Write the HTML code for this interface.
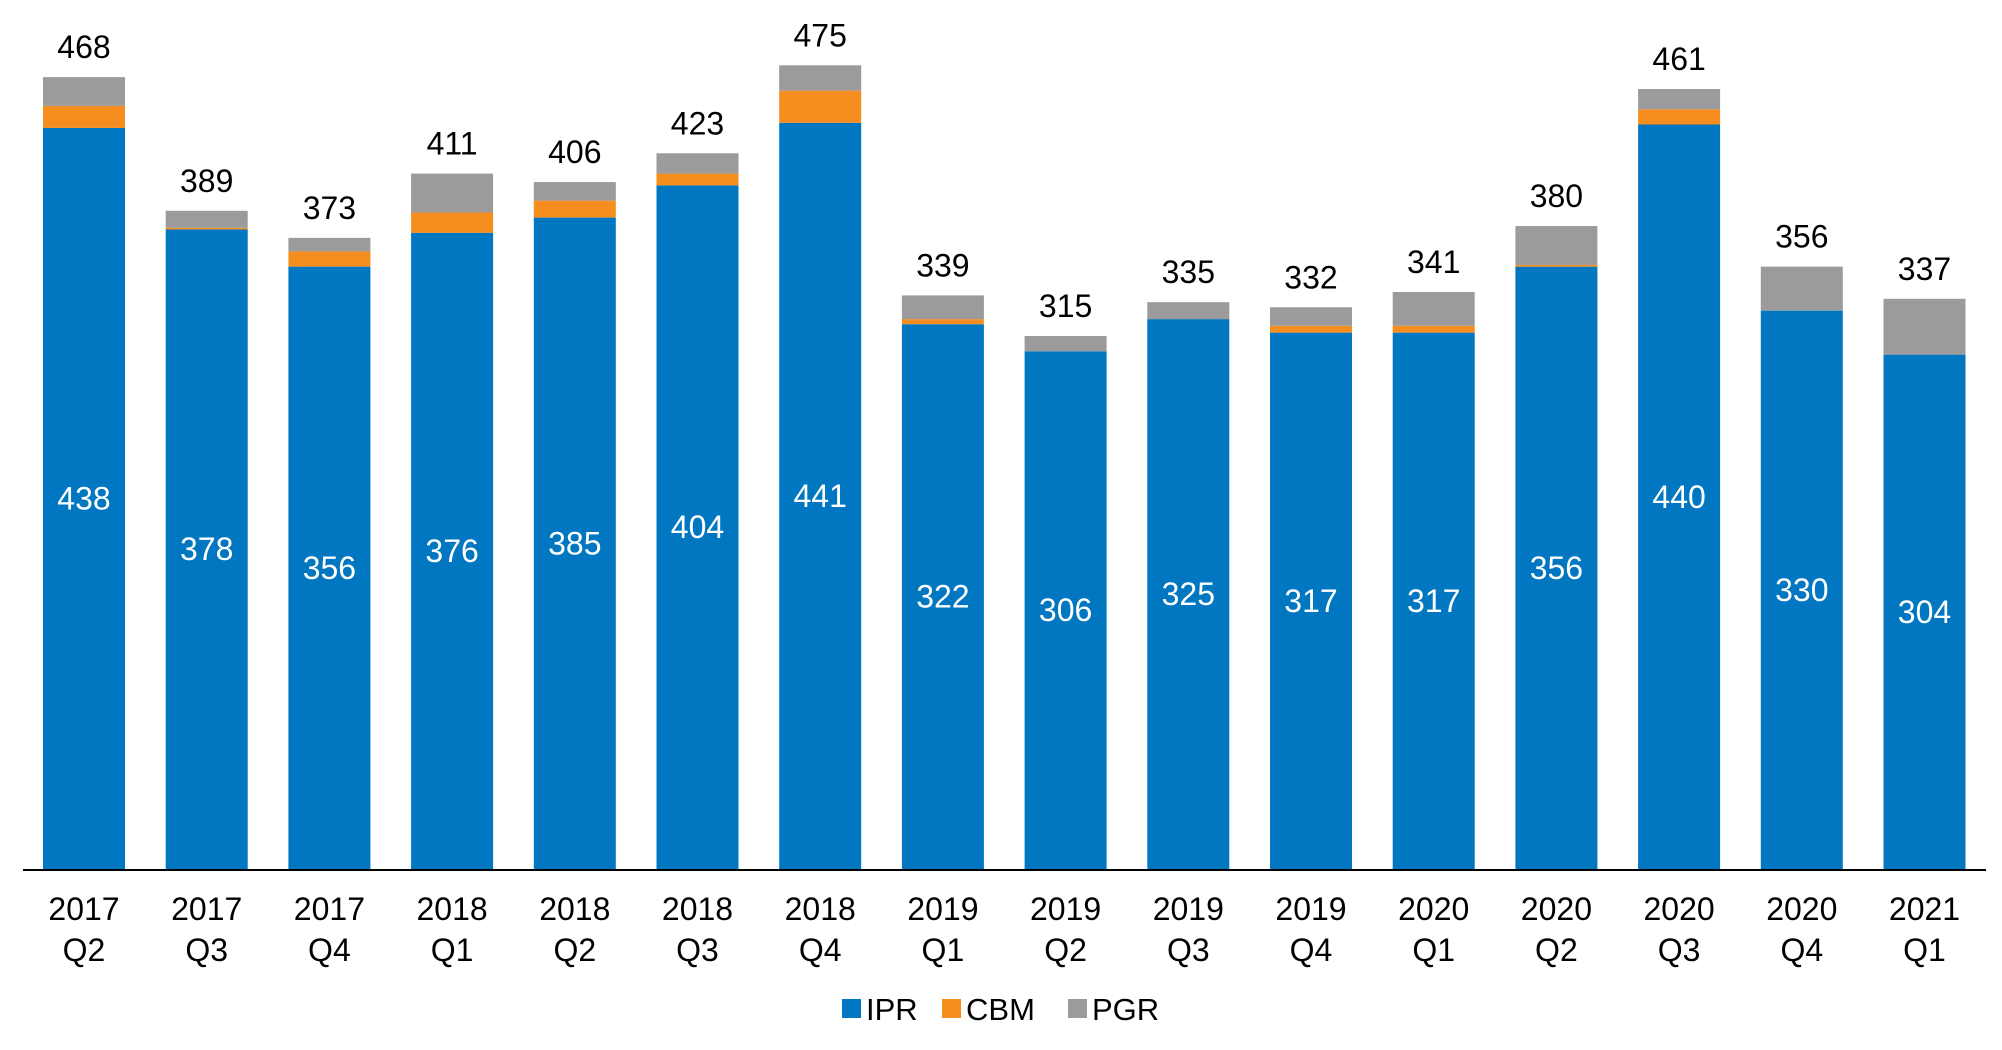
<!DOCTYPE html>
<html><head><meta charset="utf-8"><style>
html,body{margin:0;padding:0;background:#fff;}
svg text{font-family:"Liberation Sans",sans-serif;}
</style></head><body>
<svg id="chart" width="2002" height="1045" viewBox="0 0 2002 1045" xmlns="http://www.w3.org/2000/svg"></svg>
<script>
const categories=["2017 Q2","2017 Q3","2017 Q4","2018 Q1","2018 Q2","2018 Q3","2018 Q4","2019 Q1","2019 Q2","2019 Q3","2019 Q4","2020 Q1","2020 Q2","2020 Q3","2020 Q4","2021 Q1"];
const ipr=[438,378,356,376,385,404,441,322,306,325,317,317,356,440,330,304];
const cbm=[13,1,9,12,10,7,19,3,0,0,4,4,1,9,0,0];
const pgr=[17,10,8,23,11,12,15,14,9,10,11,20,23,12,26,33];
const totals=[468,389,373,411,406,423,475,339,315,335,332,341,380,461,356,337];
const colors={ipr:"#0077c0",cbm:"#f58d1f",pgr:"#9b9b9b"};
const NS="http://www.w3.org/2000/svg";
const svg=document.getElementById('chart');
const baseY=869, pxPerUnit=1.692, firstX=84, step=122.7, barW=82;
function y(v){return baseY-v*pxPerUnit;}
function x(i){return firstX+i*step;}
function mk(tag,attrs,txt){const e=document.createElementNS(NS,tag);for(const k in attrs)e.setAttribute(k,attrs[k]);if(txt!==undefined)e.textContent=txt;svg.appendChild(e);return e;}
categories.forEach((c,i)=>{
  const cx=x(i);
  let acc=0;
  [["ipr",ipr[i]],["cbm",cbm[i]],["pgr",pgr[i]]].forEach(([s,v])=>{
    if(v<=0)return;
    const r=mk('rect',{x:cx-barW/2,y:y(acc+v),width:barW,height:v*pxPerUnit,fill:colors[s]});
    
    
    acc+=v;
  });
  const t1=mk('text',{x:cx,y:(y(ipr[i])+baseY)/2+11,'text-anchor':'middle','font-size':32,fill:'#fff'},ipr[i]);
  
  
  const t2=mk('text',{x:cx,y:y(acc)-19,'text-anchor':'middle','font-size':32,fill:'#000'},totals[i]);
  
  
  const parts=c.split(' ');
  const l1=mk('text',{x:cx,y:920,'text-anchor':'middle','font-size':32,fill:'#000'},parts[0]);
  
  
  const l2=mk('text',{x:cx,y:961,'text-anchor':'middle','font-size':32,fill:'#000'},parts[1]);
  
  
});
const ax=mk('line',{x1:23,x2:1986,y1:baseY+1,y2:baseY+1,stroke:'#000','stroke-width':2});


const legend=[["IPR","ipr",852],["CBM","cbm",952],["PGR","pgr",1078]];
legend.forEach(([lab,s,lx])=>{
  const r=mk('rect',{x:lx-10,y:999,width:19,height:19,fill:colors[s]});
  
  
  const t=mk('text',{x:lx+14,y:1020,'font-size':31,fill:'#000'},lab);
  
  
});
</script>
</body></html>
